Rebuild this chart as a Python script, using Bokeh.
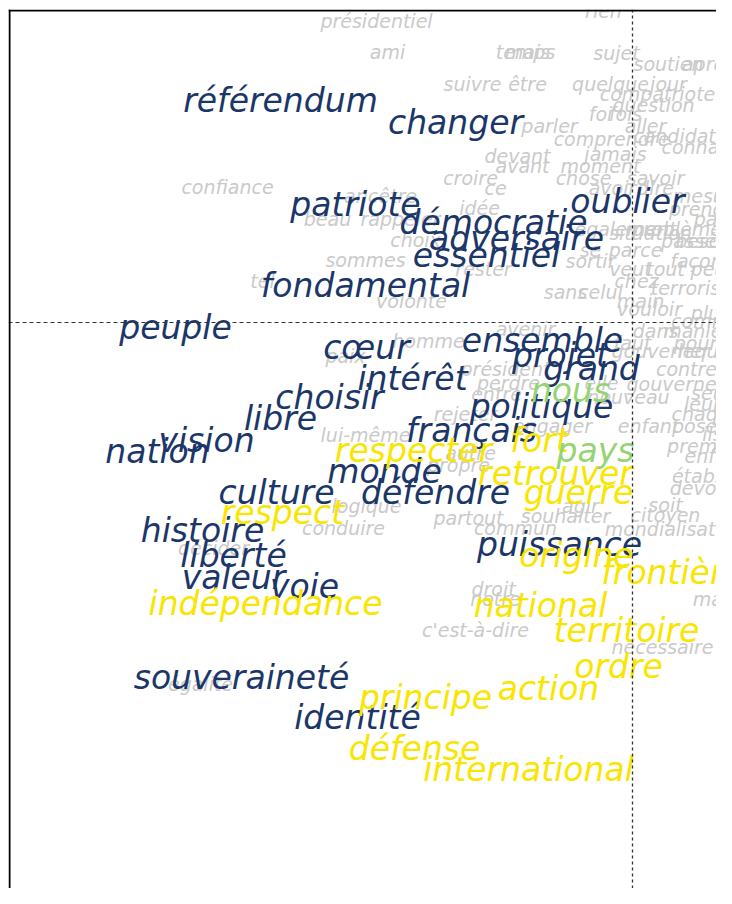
from bokeh.plotting import figure
from bokeh.models import ColumnDataSource, Range1d, Span
from bokeh.core.properties import value
from bokeh.embed import file_html
from bokeh.resources import INLINE

# ---- data: word coordinates on the two factorial dimensions ----
navy_words = ["référendum", "changer", "patriote", "oublier", "démocratie", "adversaire",
              "essentiel", "fondamental", "peuple", "cœur", "ensemble", "projet", "grand",
              "intérêt", "choisir", "politique", "libre", "français", "vision", "nation",
              "monde", "culture", "défendre", "histoire", "puissance", "liberté", "valeur",
              "voie", "souveraineté", "identité"]
navy_x = [-3.52, -1.77, -2.77, -0.05, -1.39, -1.16, -1.46, -2.67, -4.57, -2.66, -0.90, -0.72,
          -0.41, -2.20, -3.03, -0.91, -3.52, -1.61, -4.26, -4.75, -2.48, -3.56, -1.97, -4.30,
          -0.73, -3.99, -3.99, -3.28, -3.91, -2.75]
navy_y = [2.22, 2.00, 1.18, 1.21, 1.00, 0.84, 0.67, 0.37, -0.05, -0.25, -0.18, -0.33, -0.46,
          -0.56, -0.75, -0.84, -0.96, -1.08, -1.18, -1.29, -1.49, -1.70, -1.70, -2.08, -2.22,
          -2.33, -2.55, -2.64, -3.55, -3.95]

yellow_words = ["respecter", "fort", "retrouver", "guerre", "respect", "origine", "frontière",
                "indépendance", "national", "territoire", "ordre", "action", "principe",
                "défense", "international"]
yellow_x = [-2.19, -0.93, -0.77, -0.54, -3.50, -0.56, 0.40, -3.67, -0.92, -0.06, -0.14, -0.84,
            -2.07, -2.18, -1.04]
yellow_y = [-1.28, -1.18, -1.51, -1.70, -1.90, -2.33, -2.50, -2.81, -2.83, -3.08, -3.44, -3.66,
            -3.75, -4.26, -4.47]

green_words = ["nous", "pays"]
green_x = [-0.62, -0.37]
green_y = [-0.68, -1.28]

grey_words = ["rien", "présidentiel", "ami", "temps", "mais", "sujet", "soutien", "après",
              "suivre", "être", "quelque", "jour", "compatriote", "question", "foi", "fois",
              "aller", "parler", "comprendre", "candidat", "connaître", "devant", "jamais",
              "avant", "moment", "croire", "chose", "savoir", "ce", "avoir", "dire", "confiance",
              "ancêtre", "idée", "beau", "rappeler", "mesure", "prendre", "pas", "choix",
              "également", "problème", "situation", "passé", "besoin", "sommes", "se", "parce",
              "sortir", "rester", "tel", "façon", "veut", "tout", "peu", "chez", "terrorisme",
              "sans", "celui", "volonté", "main", "vouloir", "plus", "comme", "dans", "manière",
              "avenir", "homme", "paix", "faut", "pour", "gouverner", "lequel", "président",
              "perdre", "entre", "elle", "contre", "gouvernement", "nouveau", "seul", "leur",
              "chaque", "rejeter", "engager", "enfant", "poser", "ils", "lui-même", "premier",
              "enfin", "autre", "propre", "établir", "devoir", "logique", "conduire", "partout",
              "agir", "soit", "souhaiter", "citoyen", "commun", "mondialisation", "décider",
              "égalité", "droit", "notre", "mal", "c'est-à-dire", "nécessaire"]
grey_x = [-0.29, -2.56, -2.45, -1.07, -1.05, -0.16, 0.36, 0.76,
          -1.60, -1.05, -0.22, 0.36, 0.25, 0.21, -0.32, -0.07,
          0.13, -0.83, -0.21, 0.42, 0.74, -1.15, -0.17,
          -1.10, -0.32, -1.62, -0.49, 0.23, -1.37, -0.20, 0.23, -4.05,
          -2.52, -1.53, -3.05, -2.32, 0.76, 0.74, 0.78, -2.17,
          -0.07, 0.44, 0.18, 0.56, 0.74, -2.67, -0.42, 0.03,
          -0.42, -1.49, -3.70, 0.64, -0.02, 0.33, 0.76, 0.04, 0.68,
          -0.67, -0.32, -2.21, 0.08, 0.17, 0.78, 0.74, 0.23, 0.70,
          -1.07, -2.04, -2.87, 0.00, 0.63, 0.28, 0.74, -1.27,
          -1.24, -1.36, -0.31, 0.54, 0.64, -0.04, 0.78, 0.70,
          0.74, -1.67, -0.80, 0.16, 0.66, 0.80, -2.67, 0.72,
          0.76, -1.62, -1.74, 0.70, 0.67, -2.66, -2.89, -1.64,
          -0.52, 0.33, -0.67, 0.33, -1.17, 0.42, -4.19,
          -4.32, -1.39, -1.37, 0.78, -1.57, 0.30]
grey_y = [3.12, 3.02, 2.71, 2.71, 2.71, 2.70, 2.59, 2.59,
          2.39, 2.39, 2.39, 2.39, 2.29, 2.18, 2.09, 2.09,
          1.97, 1.97, 1.84, 1.87, 1.76, 1.67, 1.69,
          1.57, 1.57, 1.45, 1.45, 1.45, 1.35, 1.35, 1.35, 1.36,
          1.27, 1.15, 1.04, 1.04, 1.27, 1.14, 1.04, 0.83,
          0.94, 0.94, 0.90, 0.82, 0.82, 0.63, 0.73, 0.73,
          0.62, 0.54, 0.42, 0.62, 0.54, 0.54, 0.54, 0.42, 0.35,
          0.31, 0.31, 0.22, 0.22, 0.14, 0.10, 0.02, -0.08, -0.08,
          -0.06, -0.18, -0.33, -0.20, -0.20, -0.28, -0.28, -0.46,
          -0.60, -0.71, -0.60, -0.46, -0.61, -0.74, -0.70, -0.81,
          -0.91, -0.91, -1.03, -1.03, -1.03, -1.11, -1.12, -1.23,
          -1.33, -1.30, -1.42, -1.53, -1.65, -1.83, -2.05, -1.95,
          -1.83, -1.82, -1.93, -1.92, -2.05, -2.06, -2.25,
          -3.61, -2.66, -2.76, -2.76, -3.07, -3.24]

X_START, X_END = -6.24, 0.84
Y_START, Y_END = -5.66, 3.13

# ---- figure ----
p = figure(width=716, height=888, output_backend="svg", toolbar_location=None,
           x_range=Range1d(X_START, X_END), y_range=Range1d(Y_START, Y_END),
           min_border_left=8, min_border_right=0, min_border_top=9, min_border_bottom=0)
p.xaxis.visible = False
p.yaxis.visible = False
p.xgrid.visible = False
p.ygrid.visible = False
p.outline_line_color = None
p.background_fill_color = "white"

font = value("DejaVu Sans")

groups = [
    (grey_words, grey_x, grey_y, "#cacaca", "19px"),
    (navy_words, navy_x, navy_y, "#1b3668", "33px"),
    (yellow_words, yellow_x, yellow_y, "#f9e500", "33px"),
    (green_words, green_x, green_y, "#94d472", "33px"),
]
for words, xs, ys, color, size in groups:
    src = ColumnDataSource(dict(x=xs, y=ys, t=words))
    p.text(x="x", y="y", text="t", source=src, text_font=font, text_font_style="italic",
           text_font_size=size, text_color=color, text_align="center",
           text_baseline="middle")

# origin lines
p.add_layout(Span(location=0, dimension="height", line_color="#333333",
                  line_dash="3 3", line_width=1.3))
p.add_layout(Span(location=0, dimension="width", line_color="#333333",
                  line_dash="4 3", line_width=1))

# frame borders (left and top, the only ones visible)
p.add_layout(Span(location=X_START + 0.01, dimension="height", line_color="black", line_width=2))
p.add_layout(Span(location=Y_END - 0.01, dimension="width", line_color="black", line_width=2))

open("out.html", "w").write(file_html(p, INLINE))
